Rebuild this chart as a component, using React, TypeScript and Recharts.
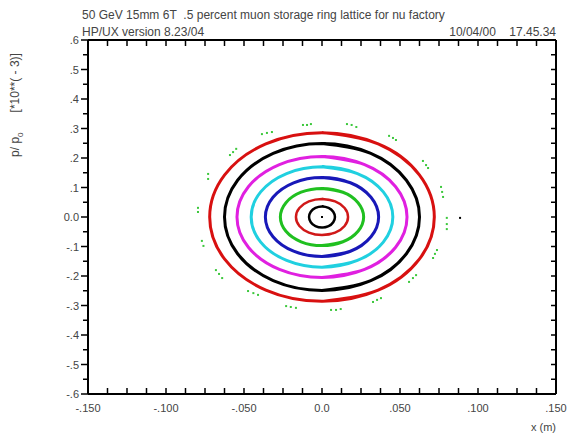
import { ScatterChart, Scatter, XAxis, YAxis } from 'recharts'

// axis ticks
const xMajor = [-0.15, -0.1, -0.05, 0, 0.05, 0.1, 0.15]
const xMajorLabels = ['-.150', '-.100', '-.050', '0.0', '.050', '.100', '.150']
const xMinor = [
  -0.1375, -0.125, -0.1125, -0.0875, -0.075, -0.0625, -0.0375, -0.025, -0.0125,
  0.0125, 0.025, 0.0375, 0.0625, 0.075, 0.0875, 0.1125, 0.125, 0.1375,
]
const yMajor = [-0.6, -0.5, -0.4, -0.3, -0.2, -0.1, 0, 0.1, 0.2, 0.3, 0.4, 0.5, 0.6]
const yMajorLabels = ['-.6', '-.5', '-.4', '-.3', '-.2', '-.1', '0.0', '.1', '.2', '.3', '.4', '.5', '.6']
const yMinor = [-0.55, -0.45, -0.35, -0.25, -0.15, -0.05, 0.05, 0.15, 0.25, 0.35, 0.45, 0.55]

// tracked orbits, x (m) vs p/p0 [1e-3]
const ringRedOuter: [number, number][] = [
  [0.072, 0], [0.0624, 0.143], [0.036, 0.248], [0, 0.286], [-0.036, 0.248], [-0.0624, 0.143],
  [-0.072, 0], [-0.0624, -0.143], [-0.036, -0.248], [0, -0.286], [0.036, -0.248], [0.0624, -0.143],
]
const ringBlackOuter: [number, number][] = [
  [0.0625, 0], [0.0541, 0.1245], [0.0313, 0.2156], [0, 0.249], [-0.0313, 0.2156], [-0.0541, 0.1245],
  [-0.0625, 0], [-0.0541, -0.1245], [-0.0313, -0.2156], [0, -0.249], [0.0313, -0.2156], [0.0541, -0.1245],
]
const ringMagenta: [number, number][] = [
  [0.0545, 0], [0.0472, 0.1025], [0.0273, 0.1775], [0, 0.205], [-0.0273, 0.1775], [-0.0472, 0.1025],
  [-0.0545, 0], [-0.0472, -0.1025], [-0.0273, -0.1775], [0, -0.205], [0.0273, -0.1775], [0.0472, -0.1025],
]
const ringCyan: [number, number][] = [
  [0.0454, 0], [0.0393, 0.085], [0.0227, 0.1472], [0, 0.17], [-0.0227, 0.1472], [-0.0393, 0.085],
  [-0.0454, 0], [-0.0393, -0.085], [-0.0227, -0.1472], [0, -0.17], [0.0227, -0.1472], [0.0393, -0.085],
]
const ringBlue: [number, number][] = [
  [0.0363, 0], [0.0314, 0.067], [0.0182, 0.116], [0, 0.134], [-0.0182, 0.116], [-0.0314, 0.067],
  [-0.0363, 0], [-0.0314, -0.067], [-0.0182, -0.116], [0, -0.134], [0.0182, -0.116], [0.0314, -0.067],
]
const ringGreen: [number, number][] = [
  [0.0267, 0], [0.0231, 0.0485], [0.0134, 0.084], [0, 0.097], [-0.0134, 0.084], [-0.0231, 0.0485],
  [-0.0267, 0], [-0.0231, -0.0485], [-0.0134, -0.084], [0, -0.097], [0.0134, -0.084], [0.0231, -0.0485],
]
const ringRedInner: [number, number][] = [
  [0.0167, 0], [0.0145, 0.0305], [0.0084, 0.0528], [0, 0.061], [-0.0084, 0.0528], [-0.0145, 0.0305],
  [-0.0167, 0], [-0.0145, -0.0305], [-0.0084, -0.0528], [0, -0.061], [0.0084, -0.0528], [0.0145, -0.0305],
]
const ringBlackInner: [number, number][] = [
  [0.0083, 0], [0.0072, 0.018], [0.0042, 0.0312], [0, 0.036], [-0.0042, 0.0312], [-0.0072, 0.018],
  [-0.0083, 0], [-0.0072, -0.018], [-0.0042, -0.0312], [0, -0.036], [0.0042, -0.0312], [0.0072, -0.018],
]

// outer island points (green) and stray points (black)
const islandPoints: [number, number][] = [
  [-0.0122, 0.312], [-0.0096, 0.312], [-0.0071, 0.315],
  [-0.0385, 0.281], [-0.0353, 0.285], [-0.0321, 0.288],
  [-0.059, 0.21], [-0.057, 0.22], [-0.055, 0.231],
  [-0.073, 0.146], [-0.073, 0.129],
  [-0.0795, 0.031], [-0.0795, 0.017],
  [0.016, 0.315], [0.019, 0.312], [0.022, 0.305],
  [0.043, 0.275], [0.0455, 0.268], [0.0474, 0.261],
  [0.0647, 0.19], [0.0667, 0.176], [0.068, 0.166],
  [0.0763, 0.102], [0.077, 0.085], [0.0776, 0.068],
  [0.08, -0.003], [0.08, -0.024], [0.08, -0.041],
  [-0.077, -0.081], [-0.076, -0.098],
  [-0.068, -0.18], [-0.066, -0.193], [-0.064, -0.207],
  [-0.0474, -0.251], [-0.044, -0.258], [-0.041, -0.264],
  [-0.023, -0.302], [-0.02, -0.305], [-0.0167, -0.308],
  [0.0058, -0.315], [0.009, -0.315], [0.012, -0.312],
  [0.0327, -0.288], [0.0353, -0.281], [0.0378, -0.275],
  [0.0558, -0.22], [0.0583, -0.207], [0.0603, -0.197],
  [0.0712, -0.139], [0.0724, -0.125], [0.0737, -0.112],
]
const strayPoints: [number, number][] = [[0, 0], [0.0885, -0.003]]

const rings = [
  { name: 'r8', pts: ringRedOuter, color: '#d81010', width: 3 },
  { name: 'r7', pts: ringBlackOuter, color: '#000000', width: 3 },
  { name: 'r6', pts: ringMagenta, color: '#e020e0', width: 3 },
  { name: 'r5', pts: ringCyan, color: '#20d0e0', width: 3 },
  { name: 'r4', pts: ringBlue, color: '#1818b8', width: 3 },
  { name: 'r3', pts: ringGreen, color: '#20c020', width: 3 },
  { name: 'r2', pts: ringRedInner, color: '#d01818', width: 2.5 },
  { name: 'r1', pts: ringBlackInner, color: '#000000', width: 2.5 },
]

const toPts = (p: [number, number][]) => p.map(([x, y]) => ({ x, y }))
// wrap around so the smooth curve closes without a visible seam
const loop = (p: [number, number][]) => {
  const pts = toPts(p)
  const n = pts.length
  return [pts[n - 3], pts[n - 2], pts[n - 1], ...pts, pts[0], pts[1], pts[2], pts[3]]
}

const byValue = (a: number, b: number) => a - b
const xTicks = [...xMajor, ...xMinor].sort(byValue)
const yTicks = [...yMajor, ...yMinor].sort(byValue)
const majorIndex = (arr: number[], v: number) => arr.findIndex((m) => Math.abs(m - v) < 1e-6)

const font = '"Liberation Sans", Arial, sans-serif'
const textColor = '#444'

function BottomTick({ x, y, payload }: any) {
  const i = majorIndex(xMajor, payload.value)
  return (
    <g>
      <line x1={x} y1={y} x2={x} y2={y - 6} stroke='#000' strokeWidth={1.5} />
      {i >= 0 && (
        <text x={x} y={y + 14} textAnchor='middle' dominantBaseline='central' fontSize={11} fontFamily={font} fill={textColor}>
          {xMajorLabels[i]}
        </text>
      )}
    </g>
  )
}

function TopTick({ x, y }: any) {
  return <line x1={x} y1={y} x2={x} y2={y + 6} stroke='#000' strokeWidth={1.5} />
}

function LeftTick({ x, y, payload }: any) {
  const i = majorIndex(yMajor, payload.value)
  return (
    <g>
      <line x1={x} y1={y} x2={x - (i >= 0 ? 7 : 5)} y2={y} stroke='#000' strokeWidth={1.5} />
      {i >= 0 && (
        <text x={x - 9} y={y} textAnchor='end' dominantBaseline='central' fontSize={11} fontFamily={font} fill={textColor}>
          {yMajorLabels[i]}
        </text>
      )}
    </g>
  )
}

function RightTick({ x, y }: any) {
  return <line x1={x} y1={y} x2={x - 5} y2={y} stroke='#000' strokeWidth={1.5} />
}

const Dot = ({ cx, cy, fill }: any) => <rect x={cx - 1} y={cy - 1} width={2} height={2} fill={fill} />
const NoShape = () => <g />

export default function App() {
  const axisLine = { stroke: '#000', strokeWidth: 2 }
  return (
    <div style={{ position: 'absolute', left: 0, top: 0, width: 571, height: 434, background: '#fff', fontFamily: font }}>
      <ScatterChart width={571} height={434} margin={{ top: 39, right: 14, bottom: 39, left: 87 }}>
        <XAxis xAxisId={0} type='number' dataKey='x' domain={[-0.15, 0.15]} ticks={xTicks} interval={0}
          height={1} tickSize={0} tickMargin={0} tickLine={false} axisLine={axisLine} tick={<BottomTick />} allowDataOverflow />
        <XAxis xAxisId='top' orientation='top' type='number' dataKey='x' domain={[-0.15, 0.15]} ticks={xTicks} interval={0}
          height={1} tickSize={0} tickMargin={0} tickLine={false} axisLine={axisLine} tick={<TopTick />} allowDataOverflow />
        <YAxis yAxisId={0} type='number' dataKey='y' domain={[-0.6, 0.6]} ticks={yTicks} interval={0}
          width={1} tickSize={0} tickMargin={0} tickLine={false} axisLine={axisLine} tick={<LeftTick />} allowDataOverflow />
        <YAxis yAxisId='right' orientation='right' type='number' dataKey='y' domain={[-0.6, 0.6]} ticks={yTicks} interval={0}
          width={1} tickSize={0} tickMargin={0} tickLine={false} axisLine={axisLine} tick={<RightTick />} allowDataOverflow />
        <Scatter data={toPts(islandPoints)} fill='#3cc83c' shape={<Dot />} isAnimationActive={false} />
        {rings.map((r) => (
          <Scatter key={r.name} name={r.name} data={loop(r.pts)} fill={r.color}
            line={{ stroke: r.color, strokeWidth: r.width, fill: 'none' }} lineJointType='natural'
            shape={<NoShape />} isAnimationActive={false} />
        ))}
        <Scatter data={toPts(strayPoints)} fill='#000' shape={<Dot />} isAnimationActive={false} />
      </ScatterChart>

      <div style={{ position: 'absolute', left: 82, top: 8, fontSize: 12, lineHeight: '15px', color: textColor, whiteSpace: 'nowrap' }}>
        50 GeV 15mm 6T&nbsp; .5 percent muon storage ring lattice for nu factory
      </div>
      <div style={{ position: 'absolute', left: 82, top: 25, fontSize: 12, lineHeight: '15px', color: textColor, whiteSpace: 'nowrap' }}>
        HP/UX version 8.23/04
      </div>
      <div style={{ position: 'absolute', right: 15, top: 25, fontSize: 12, lineHeight: '15px', color: textColor, whiteSpace: 'nowrap' }}>
        10/04/00&nbsp;&nbsp;&nbsp; 17.45.34
      </div>
      <div style={{ position: 'absolute', right: 15, top: 420, fontSize: 11, lineHeight: '14px', color: textColor, whiteSpace: 'nowrap' }}>
        x (m)
      </div>
      <div style={{ position: 'absolute', left: 18, top: 105, fontSize: 12, lineHeight: '15px', color: textColor, whiteSpace: 'nowrap', transform: 'translate(-50%, -50%) rotate(-90deg)' }}>
        p/ p<sub style={{ fontSize: 8 }}>0</sub>&nbsp;&nbsp;&nbsp;&nbsp;&nbsp; [*10**( - 3)]
      </div>
    </div>
  )
}
